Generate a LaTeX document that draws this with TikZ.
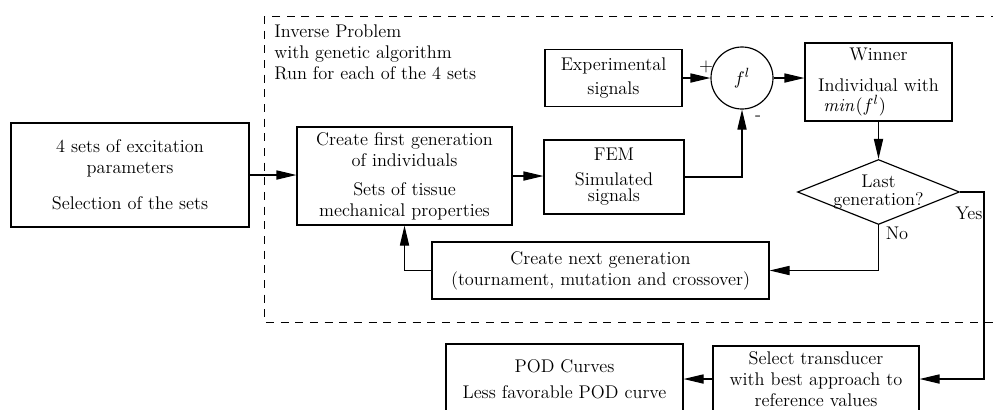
\documentclass[tikz,border=0pt]{standalone}
\usepackage{tikz}
\usetikzlibrary{calc, positioning, shapes.geometric, arrows.meta}

\begin{document}
\begin{tikzpicture}[x=0.6pt,y=-0.6pt, font=\fontsize{11}{12.6}\selectfont,
  box/.style={draw, line width=0.7pt, align=center, inner sep=0pt},
  flow/.style={line width=0.7pt, -{Triangle[length=12pt,width=5.5pt]}},
  mark label/.style={inner sep=0pt}]
  \path[use as bounding box, clip] (0,0) rectangle (993,409);
  % outer loop of the inverse problem
  \draw[line width=0.6pt, dash pattern=on 4.8pt off 4pt] (264,16) rectangle (1000,322);
  \node[align=left, anchor=north west, inner sep=0pt] (title) at (274,24)
    {Inverse Problem\\with genetic algorithm\\Run for each of the 4 sets};
  \node[box, minimum width=142.8pt, minimum height=62.4pt] (sets) at (130,175)
    {4 sets of excitation\\parameters\\[9pt]Selection of the sets};
  \node[box, minimum width=129pt, minimum height=58.8pt] (first) at (404.5,176)
    {Create first generation\\of individuals\\[5pt]Sets of tissue\\mechanical properties};
  \node[box, minimum width=84pt, minimum height=44.4pt] (fem) at (614,177)
    {FEM\\[2pt]Simulated\\[-2.5pt]signals};
  \node[box, minimum width=82.2pt, minimum height=34.2pt] (exper) at (613.5,78)
    {Experimental\\[2pt]signals};
  \node[draw, circle, line width=0.7pt, minimum size=37.2pt, inner sep=0pt] (fl) at (742,78) {$f^l$};
  \node[box, minimum width=88.2pt, minimum height=46.8pt] (winner) at (878.5,82)
    {Winner\\[6pt]Individual with\\[-1pt]$\mathit{min}(f^l)$\hspace*{2.6em}};
  \node[diamond, draw, line width=0.7pt, shape aspect=2.5, minimum width=97.2pt,
    minimum height=39pt, inner sep=-1.5pt, align=center] (last) at (878.5,192)
    {Last\\[-2pt]generation?};
  \node[box, minimum width=202.2pt, minimum height=34.2pt] (next) at (600.5,270.5)
    {Create next generation\\(tournament, mutation and crossover)};
  \node[box, minimum width=123.6pt, minimum height=39.6pt] (select) at (816,379)
    {Select transducer\\with best approach to\\reference values};
  \node[box, minimum width=142.2pt, minimum height=42pt] (pod) at (564.5,379)
    {POD Curves\\[3pt]Less favorable POD curve};
  \node[mark label] (plus) at (706,67) {+};
  \node[mark label] (minus) at (758,118) {-};
  \node[mark label] (yes) at (969,213) {Yes};
  \node[mark label] (no) at (897,233) {No};
  % connectors
  \draw[flow] (sets.east) -- (sets.east -| first.west);
  \draw[flow] (first.east) -- (first.east -| fem.west);
  \draw[flow] (exper) -- (fl);
  \draw[flow] (fem.east) -| (fl.south);
  \draw[flow] (fl.east) -- (fl.east -| winner.west);
  \draw[flow] (winner) -- (last);
  \draw[flow] (last.south) |- (next.east);
  \draw[flow] (next.west) -| (first.south);
  \coordinate (yesturn) at (984,192);
  \draw[flow] (last.east) -- (yesturn) |- (select.east);
  \draw[flow] (select) -- (pod);
\end{tikzpicture}
\end{document}
